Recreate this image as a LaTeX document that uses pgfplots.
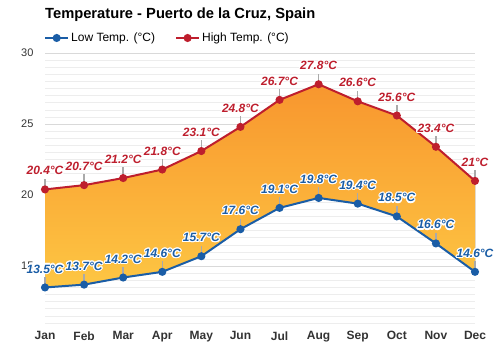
\documentclass[border=0pt]{standalone}
\usepackage{fontspec}
\setmainfont{Liberation Sans}
\usepackage{pgfplots}
\pgfplotsset{compat=1.18}
\usepgfplotslibrary{fillbetween}
\usepackage{contour}
\contourlength{1.1pt}
\definecolor{redc}{HTML}{BE1E2D}
\definecolor{bluec}{HTML}{1A5DA6}
\definecolor{fillTop}{HTML}{F8962E}
\definecolor{fillBot}{HTML}{FDC643}
\definecolor{majg}{HTML}{D9D9D9}
\definecolor{ming}{HTML}{EDEDED}
\definecolor{stem}{HTML}{AAAAAA}
\definecolor{ticktext}{HTML}{333333}
\pgfplotstableread{
x low high
0 13.5 20.4
1 13.7 20.7
2 14.2 21.2
3 14.6 21.8
4 15.7 23.1
5 17.6 24.8
6 19.1 26.7
7 19.8 27.8
8 19.4 26.6
9 18.5 25.6
10 16.6 23.4
11 14.6 21.0
}\datatable
\begin{document}
\begin{tikzpicture}
\begin{axis}[
  at={(0,0)}, anchor=south west,
  scale only axis, width=430pt, height=270pt,
  xmin=0, xmax=11, ymin=11, ymax=30,
  xtick={0,...,11},
  xticklabels={Jan,Feb,Mar,Apr,May,Jun,Jul,Aug,Sep,Oct,Nov,Dec},
  ytick={15,20,25,30},
  minor ytick={11,11.5,...,30},
  ymajorgrids, yminorgrids,
  major grid style={majg, line width=0.8pt},
  minor grid style={ming, line width=0.6pt},
  axis line style={draw=none},
  major tick length=0pt, minor tick length=0pt,
  /pgf/number format/assume math mode=true,
  yticklabel style={font=\fontsize{11}{13}\selectfont, text=ticktext, xshift=-8pt},
  xticklabel style={font=\bfseries\fontsize{12}{14}\selectfont, text=ticktext, yshift=-5pt},
  clip=false,
  legend columns=2,
  legend style={draw=none, fill=none, at={(0,1)}, anchor=west, yshift=15pt, xshift=-4pt,
    font=\fontsize{12}{14}\selectfont, /tikz/every even column/.append style={column sep=18pt}},
  legend image code/.code={\draw[#1] (0pt,0pt) -- (23pt,0pt); \draw[#1, mark repeat=1] plot coordinates {(11.5pt,0pt)};},
]
\addplot[draw=none, name path=H, forget plot] table[x=x, y=high] {\datatable};
\addplot[draw=none, name path=L, forget plot] table[x=x, y=low] {\datatable};
\addplot[top color=fillTop, bottom color=fillBot, draw=none, forget plot] fill between[of=H and L];
\addplot[draw=none, mark=none, forget plot, error bars/.cd, y dir=plus, y fixed=0.75, error mark=none,
  error bar style={stem, line width=1.5pt}] table[x=x, y=high] {\datatable};
\addplot[draw=none, mark=none, forget plot, error bars/.cd, y dir=plus, y fixed=0.75, error mark=none,
  error bar style={stem, line width=1.5pt}] table[x=x, y=low] {\datatable};
\addplot[bluec, line width=2pt, mark=*, mark size=3pt,
  nodes near coords={\contour{white}{\pgfmathprintnumber{\pgfplotspointmeta}°C}},
  every node near coord/.append style={anchor=center, yshift=18pt, text=bluec,
     font=\bfseries\itshape\fontsize{12}{14}\selectfont}]
  table[x=x, y=low] {\datatable};
\addlegendentry{Low Temp. (°C)}
\addplot[redc, line width=2pt, mark=*, mark size=3pt,
  nodes near coords={\contour{white}{\pgfmathprintnumber{\pgfplotspointmeta}°C}},
  every node near coord/.append style={anchor=center, yshift=18pt, text=redc,
     font=\bfseries\itshape\fontsize{12}{14}\selectfont}]
  table[x=x, y=high] {\datatable};
\addlegendentry{High Temp. (°C)}
\node[anchor=west, font=\bfseries\fontsize{14.7}{17}\selectfont, inner sep=0pt] at (rel axis cs:0,1) [yshift=38pt] {Temperature - Puerto de la Cruz, Spain};
\end{axis}
\path[use as bounding box] (-45pt,-27pt) rectangle (455pt,323pt);
\end{tikzpicture}
\end{document}
